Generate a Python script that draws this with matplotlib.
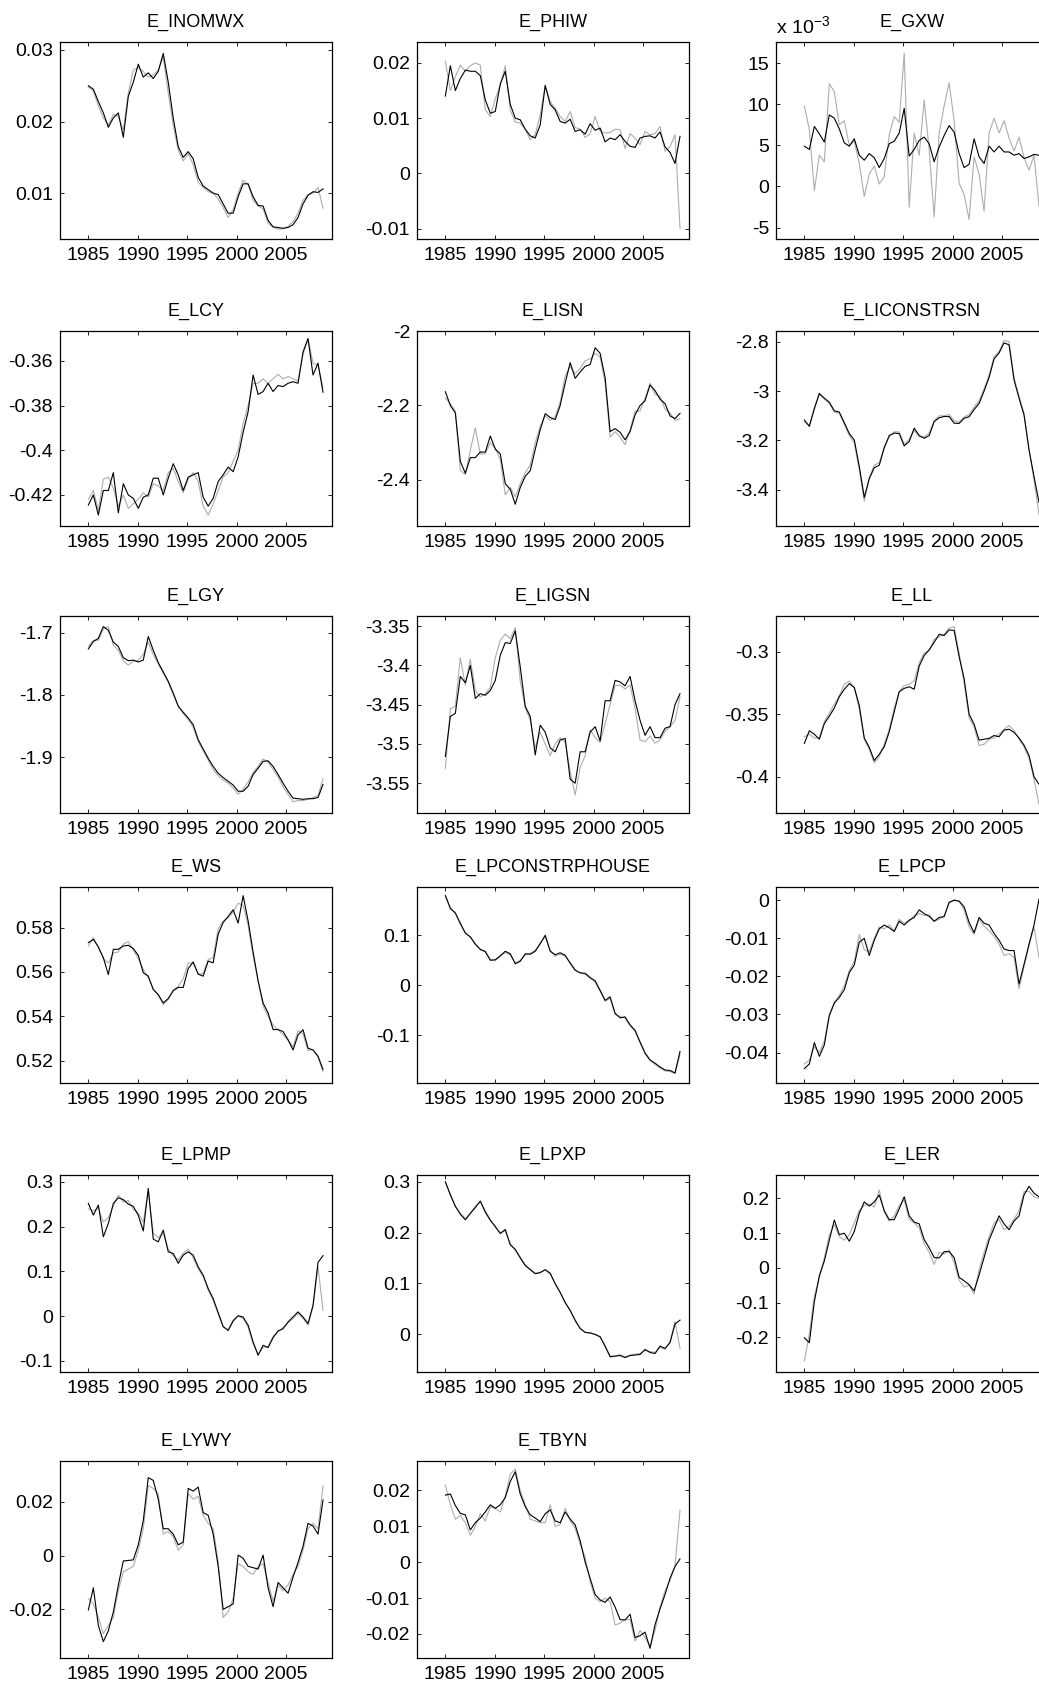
import numpy as np
import matplotlib
matplotlib.use('Agg')
import matplotlib.pyplot as plt
from matplotlib.ticker import FuncFormatter

plt.rcParams['font.family'] = ['Liberation Sans', 'DejaVu Sans']
plt.rcParams['axes.unicode_minus'] = False
plt.rcParams['mathtext.default'] = 'regular'

# ---------------- data (semi-annual readings, 1985 - 2008.75) ----------------
dates = np.linspace(1985, 2008.75, 48)
year_ticks = [1985, 1990, 1995, 2000, 2005]

inomwx_black = [0.0250, 0.0245, 0.0228, 0.0212, 0.0192, 0.0205, 0.0212, 0.0178, 0.0235, 0.0255,
                0.0280, 0.0262, 0.0268, 0.0260, 0.0270, 0.0295, 0.0255, 0.0205, 0.0165, 0.0150,
                0.0158, 0.0148, 0.0122, 0.0110, 0.0105, 0.0100, 0.0098, 0.0085, 0.0072, 0.0072,
                0.0095, 0.0113, 0.0113, 0.0095, 0.0083, 0.0082, 0.0062, 0.0053, 0.0052, 0.0051,
                0.0052, 0.0056, 0.0066, 0.0085, 0.0097, 0.0102, 0.0101, 0.0106]
inomwx_gray = [0.0248, 0.0243, 0.0222, 0.0205, 0.0195, 0.0210, 0.0207, 0.0188, 0.0240, 0.0272,
               0.0275, 0.0270, 0.0262, 0.0265, 0.0272, 0.0290, 0.0240, 0.0195, 0.0160, 0.0145,
               0.0155, 0.0140, 0.0115, 0.0108, 0.0102, 0.0100, 0.0092, 0.0080, 0.0066, 0.0077,
               0.0100, 0.0118, 0.0112, 0.0090, 0.0082, 0.0078, 0.0058, 0.0052, 0.0050, 0.0050,
               0.0054, 0.0060, 0.0072, 0.0090, 0.0098, 0.0100, 0.0108, 0.0079]

phiw_black = [0.0140, 0.0195, 0.0150, 0.0172, 0.0187, 0.0185, 0.0185, 0.0177, 0.0133, 0.0109,
              0.0112, 0.0162, 0.0185, 0.0125, 0.0100, 0.0097, 0.0080, 0.0068, 0.0064, 0.0088,
              0.0159, 0.0125, 0.0115, 0.0094, 0.0091, 0.0098, 0.0076, 0.0079, 0.0071, 0.0090,
              0.0078, 0.0082, 0.0057, 0.0064, 0.0061, 0.0070, 0.0058, 0.0049, 0.0047, 0.0064,
              0.0067, 0.0068, 0.0064, 0.0075, 0.0048, 0.0038, 0.0018, 0.0067]
phiw_gray = [0.0203, 0.0150, 0.0175, 0.0196, 0.0185, 0.0195, 0.0200, 0.0196, 0.0115, 0.0103,
             0.0135, 0.0160, 0.0195, 0.0115, 0.0093, 0.0091, 0.0080, 0.0061, 0.0070, 0.0106,
             0.0160, 0.0130, 0.0118, 0.0103, 0.0094, 0.0112, 0.0083, 0.0080, 0.0065, 0.0072,
             0.0103, 0.0076, 0.0073, 0.0074, 0.0080, 0.0079, 0.0045, 0.0072, 0.0064, 0.0052,
             0.0076, 0.0070, 0.0072, 0.0085, 0.0040, 0.0048, 0.0070, -0.0100]

# E_GXW in units of 10^-3
gxw_black = [4.9, 4.5, 7.3, 6.4, 5.4, 8.7, 8.3, 7.0, 5.3, 4.9,
             5.8, 3.8, 3.2, 4.0, 3.5, 2.3, 3.4, 5.2, 5.5, 6.5,
             9.5, 3.7, 4.5, 5.6, 6.0, 5.2, 3.0, 4.8, 6.2, 7.4,
             6.6, 4.0, 2.3, 2.7, 5.8, 3.6, 2.8, 4.9, 4.2, 4.9,
             4.2, 4.2, 3.8, 4.0, 3.4, 3.6, 3.9, 3.8]
gxw_gray = [9.8, 6.9, -0.5, 3.8, 3.0, 12.5, 11.5, 7.5, 8.0, 5.0,
            5.5, 2.8, -1.2, 1.5, 2.5, 0.3, 1.2, 6.3, 8.5, 7.8,
            16.2, -2.5, 6.5, 3.8, 10.5, 4.5, -3.7, 6.5, 9.8, 12.6,
            8.0, 0.4, -1.0, -4.0, 3.6, 1.5, -3.0, 6.5, 8.3, 6.5,
            8.0, 5.9, 4.3, 6.0, 3.5, 2.0, 3.8, -2.4]

lcy_black = [-0.4245, -0.420, -0.429, -0.418, -0.418, -0.410, -0.428, -0.415, -0.420, -0.4215,
             -0.426, -0.421, -0.420, -0.4125, -0.4125, -0.420, -0.4125, -0.406, -0.411, -0.418,
             -0.412, -0.411, -0.410, -0.421, -0.425, -0.4215, -0.414, -0.411, -0.4075, -0.4096,
             -0.403, -0.392, -0.3827, -0.3663, -0.375, -0.3737, -0.370, -0.3737, -0.371, -0.3715,
             -0.370, -0.3693, -0.370, -0.356, -0.350, -0.3663, -0.361, -0.374]
lcy_gray = [-0.422, -0.418, -0.427, -0.413, -0.412, -0.417, -0.425, -0.420, -0.426, -0.424,
            -0.422, -0.419, -0.421, -0.415, -0.416, -0.418, -0.410, -0.408, -0.414, -0.419,
            -0.413, -0.410, -0.414, -0.425, -0.429, -0.424, -0.418, -0.412, -0.410, -0.405,
            -0.400, -0.388, -0.380, -0.370, -0.370, -0.368, -0.370, -0.368, -0.366, -0.368,
            -0.367, -0.368, -0.369, -0.357, -0.350, -0.361, -0.362, -0.372]

lisn_black = [-2.163, -2.200, -2.220, -2.350, -2.382, -2.340, -2.340, -2.325, -2.325, -2.282,
              -2.317, -2.330, -2.410, -2.425, -2.465, -2.420, -2.390, -2.375, -2.318, -2.265,
              -2.222, -2.232, -2.238, -2.200, -2.140, -2.085, -2.127, -2.110, -2.095, -2.090,
              -2.045, -2.060, -2.125, -2.270, -2.262, -2.272, -2.292, -2.270, -2.225, -2.200,
              -2.187, -2.145, -2.160, -2.183, -2.195, -2.228, -2.235, -2.221]
lisn_gray = [-2.180, -2.195, -2.215, -2.375, -2.385, -2.320, -2.260, -2.330, -2.330, -2.300,
             -2.315, -2.345, -2.440, -2.420, -2.445, -2.410, -2.380, -2.360, -2.300, -2.255,
             -2.228, -2.240, -2.230, -2.190, -2.120, -2.095, -2.115, -2.100, -2.080, -2.075,
             -2.060, -2.070, -2.140, -2.285, -2.270, -2.285, -2.305, -2.265, -2.215, -2.215,
             -2.180, -2.140, -2.170, -2.175, -2.210, -2.220, -2.240, -2.236]

liconstrsn_black = [-3.117, -3.143, -3.072, -3.010, -3.029, -3.045, -3.080, -3.085, -3.128, -3.172,
                    -3.198, -3.305, -3.430, -3.355, -3.310, -3.300, -3.230, -3.180, -3.170, -3.172,
                    -3.222, -3.204, -3.150, -3.180, -3.191, -3.180, -3.124, -3.108, -3.103, -3.103,
                    -3.130, -3.131, -3.110, -3.104, -3.075, -3.050, -3.000, -2.945, -2.870, -2.846,
                    -2.805, -2.813, -2.955, -3.029, -3.097, -3.238, -3.346, -3.450]
liconstrsn_gray = [-3.125, -3.140, -3.065, -3.012, -3.032, -3.050, -3.085, -3.090, -3.135, -3.180,
                   -3.210, -3.320, -3.445, -3.350, -3.300, -3.290, -3.225, -3.185, -3.165, -3.165,
                   -3.215, -3.195, -3.160, -3.185, -3.185, -3.170, -3.120, -3.100, -3.100, -3.095,
                   -3.120, -3.125, -3.105, -3.095, -3.065, -3.040, -2.990, -2.935, -2.860, -2.840,
                   -2.795, -2.800, -2.945, -3.020, -3.090, -3.235, -3.360, -3.500]

lgy_black = [-1.726, -1.714, -1.709, -1.690, -1.696, -1.715, -1.722, -1.740, -1.745, -1.744,
             -1.747, -1.744, -1.706, -1.728, -1.748, -1.763, -1.778, -1.797, -1.818, -1.828,
             -1.837, -1.848, -1.872, -1.887, -1.902, -1.915, -1.926, -1.933, -1.939, -1.945,
             -1.955, -1.955, -1.947, -1.928, -1.918, -1.907, -1.906, -1.915, -1.928, -1.942,
             -1.955, -1.966, -1.967, -1.968, -1.967, -1.967, -1.965, -1.944]
lgy_gray = [-1.722, -1.712, -1.712, -1.694, -1.690, -1.720, -1.728, -1.745, -1.752, -1.746,
            -1.744, -1.735, -1.715, -1.735, -1.750, -1.765, -1.780, -1.800, -1.818, -1.830,
            -1.840, -1.852, -1.875, -1.890, -1.905, -1.920, -1.930, -1.937, -1.942, -1.950,
            -1.960, -1.952, -1.940, -1.925, -1.915, -1.903, -1.908, -1.920, -1.932, -1.948,
            -1.960, -1.972, -1.970, -1.970, -1.968, -1.965, -1.962, -1.935]

ligsn_black = [-3.516, -3.465, -3.461, -3.414, -3.422, -3.400, -3.442, -3.436, -3.438, -3.432,
               -3.419, -3.387, -3.371, -3.372, -3.356, -3.402, -3.452, -3.465, -3.514, -3.476,
               -3.485, -3.505, -3.510, -3.495, -3.493, -3.545, -3.550, -3.510, -3.510, -3.485,
               -3.478, -3.496, -3.445, -3.445, -3.419, -3.421, -3.426, -3.414, -3.445, -3.470,
               -3.489, -3.478, -3.492, -3.492, -3.480, -3.478, -3.450, -3.436]
ligsn_gray = [-3.531, -3.455, -3.452, -3.390, -3.425, -3.392, -3.432, -3.440, -3.436, -3.428,
              -3.390, -3.368, -3.360, -3.366, -3.352, -3.420, -3.454, -3.470, -3.505, -3.485,
              -3.500, -3.515, -3.500, -3.492, -3.498, -3.535, -3.565, -3.530, -3.515, -3.482,
              -3.492, -3.498, -3.474, -3.450, -3.426, -3.425, -3.430, -3.425, -3.455, -3.495,
              -3.497, -3.490, -3.499, -3.495, -3.484, -3.478, -3.470, -3.440]

ll_black = [-0.3733, -0.3632, -0.3660, -0.3700, -0.3575, -0.3515, -0.3450, -0.3360, -0.3300, -0.3255,
            -0.3285, -0.3430, -0.3690, -0.3765, -0.3870, -0.3820, -0.3760, -0.3640, -0.3480, -0.3320,
            -0.3293, -0.3280, -0.3300, -0.3115, -0.3030, -0.2985, -0.2925, -0.2860, -0.2870, -0.2825,
            -0.2830, -0.3040, -0.3215, -0.3500, -0.3580, -0.3707, -0.3700, -0.3693, -0.3670, -0.3680,
            -0.3627, -0.3620, -0.3645, -0.3690, -0.3747, -0.3830, -0.4000, -0.4060]
ll_gray = [-0.3680, -0.3660, -0.3690, -0.3690, -0.3560, -0.3490, -0.3420, -0.3350, -0.3260, -0.3235,
           -0.3290, -0.3460, -0.3700, -0.3780, -0.3890, -0.3840, -0.3740, -0.3620, -0.3450, -0.3320,
           -0.3270, -0.3260, -0.3230, -0.3090, -0.3010, -0.2990, -0.2900, -0.2880, -0.2860, -0.2810,
           -0.2800, -0.3010, -0.3250, -0.3530, -0.3600, -0.3750, -0.3740, -0.3700, -0.3690, -0.3660,
           -0.3620, -0.3590, -0.3630, -0.3700, -0.3760, -0.3850, -0.4020, -0.4220]

ws_black = [0.5732, 0.5747, 0.5713, 0.5664, 0.5588, 0.5702, 0.5702, 0.5717, 0.5720, 0.5705,
            0.5675, 0.5596, 0.5581, 0.5520, 0.5498, 0.5460, 0.5480, 0.5515, 0.5530, 0.5530,
            0.5615, 0.5645, 0.5590, 0.5581, 0.5649, 0.5641, 0.5770, 0.5823, 0.5850, 0.5880,
            0.5820, 0.5944, 0.5830, 0.5690, 0.5560, 0.5460, 0.5415, 0.5340, 0.5340, 0.5331,
            0.5294, 0.5248, 0.5316, 0.5339, 0.5256, 0.5248, 0.5220, 0.5160]
ws_gray = [0.5717, 0.5755, 0.5710, 0.5660, 0.5640, 0.5685, 0.5690, 0.5725, 0.5737, 0.5700,
           0.5660, 0.5610, 0.5575, 0.5525, 0.5495, 0.5453, 0.5475, 0.5520, 0.5535, 0.5570,
           0.5640, 0.5640, 0.5590, 0.5593, 0.5656, 0.5664, 0.5795, 0.5830, 0.5845, 0.5870,
           0.5910, 0.5900, 0.5810, 0.5670, 0.5560, 0.5445, 0.5400, 0.5360, 0.5340, 0.5316,
           0.5292, 0.5262, 0.5335, 0.5320, 0.5245, 0.5250, 0.5215, 0.5150]

lpconstrphouse_black = [0.179, 0.154, 0.144, 0.124, 0.104, 0.097, 0.082, 0.072, 0.067, 0.050,
                        0.051, 0.0585, 0.068, 0.063, 0.043, 0.048, 0.063, 0.062, 0.068, 0.083,
                        0.100, 0.068, 0.061, 0.065, 0.060, 0.044, 0.030, 0.025, 0.024, 0.0155,
                        0.009, -0.010, -0.030, -0.023, -0.056, -0.065, -0.063, -0.079, -0.090, -0.113,
                        -0.135, -0.149, -0.1555, -0.163, -0.169, -0.170, -0.175, -0.132]
lpconstrphouse_gray = [0.180, 0.152, 0.146, 0.121, 0.106, 0.095, 0.084, 0.070, 0.069, 0.052,
                       0.049, 0.060, 0.065, 0.061, 0.045, 0.050, 0.060, 0.064, 0.070, 0.085,
                       0.097, 0.070, 0.058, 0.062, 0.058, 0.046, 0.032, 0.024, 0.022, 0.014,
                       0.006, -0.012, -0.032, -0.026, -0.058, -0.062, -0.066, -0.081, -0.092, -0.115,
                       -0.137, -0.150, -0.158, -0.165, -0.171, -0.172, -0.176, -0.138]

lpcp_black = [-0.0442, -0.0430, -0.0374, -0.0410, -0.0380, -0.0303, -0.0270, -0.0255, -0.0235, -0.0190,
              -0.0170, -0.0110, -0.0100, -0.0145, -0.0105, -0.0075, -0.0065, -0.0072, -0.0082, -0.0055,
              -0.0065, -0.0052, -0.0045, -0.0025, -0.0035, -0.0042, -0.0055, -0.0045, -0.0043, -0.0005,
              0.0000, -0.0002, -0.0017, -0.0058, -0.0085, -0.0045, -0.0060, -0.0065, -0.0087, -0.0105,
              -0.0128, -0.0132, -0.0132, -0.0220, -0.0168, -0.0115, -0.0065, 0.0003]
lpcp_gray = [-0.0430, -0.0420, -0.0385, -0.0400, -0.0370, -0.0300, -0.0268, -0.0250, -0.0225, -0.0185,
             -0.0160, -0.0090, -0.0130, -0.0135, -0.0100, -0.0070, -0.0075, -0.0065, -0.0080, -0.0050,
             -0.0060, -0.0055, -0.0040, -0.0035, -0.0040, -0.0038, -0.0055, -0.0050, -0.0040, -0.0008,
             0.0002, -0.0003, -0.0025, -0.0070, -0.0090, -0.0050, -0.0068, -0.0080, -0.0095, -0.0115,
             -0.0145, -0.0140, -0.0150, -0.0232, -0.0175, -0.0120, -0.0070, -0.0150]

lpmp_black = [0.2516, 0.2255, 0.2479, 0.1771, 0.2069, 0.2516, 0.2642, 0.2600, 0.2500, 0.2450,
              0.2250, 0.1900, 0.2850, 0.1720, 0.1659, 0.1920, 0.1436, 0.1398, 0.1180, 0.1361,
              0.1436, 0.1361, 0.1100, 0.0914, 0.0616, 0.0393, 0.0080, -0.0230, -0.0320, -0.0110,
              0.0010, -0.0020, -0.0200, -0.0575, -0.0873, -0.0650, -0.0700, -0.0480, -0.0330, -0.0280,
              -0.0130, -0.0017, 0.0095, -0.0020, -0.0166, 0.0244, 0.1200, 0.1350]
lpmp_gray = [0.2400, 0.2350, 0.2420, 0.2100, 0.2200, 0.2450, 0.2700, 0.2550, 0.2580, 0.2380,
             0.2300, 0.2100, 0.2800, 0.1850, 0.1750, 0.1850, 0.1500, 0.1350, 0.1250, 0.1400,
             0.1500, 0.1300, 0.1050, 0.0880, 0.0580, 0.0350, 0.0050, -0.0250, -0.0300, -0.0080,
             0.0000, -0.0050, -0.0250, -0.0620, -0.0850, -0.0700, -0.0680, -0.0450, -0.0350, -0.0250,
             -0.0150, -0.0050, 0.0060, -0.0050, -0.0200, 0.0200, 0.1100, 0.0130]

lpxp_black = [0.300, 0.274, 0.252, 0.236, 0.225, 0.238, 0.249, 0.262, 0.240, 0.224,
              0.212, 0.198, 0.206, 0.176, 0.167, 0.150, 0.135, 0.127, 0.119, 0.121,
              0.127, 0.120, 0.099, 0.082, 0.062, 0.047, 0.027, 0.011, 0.0035, 0.0025,
              -0.0005, -0.0050, -0.0240, -0.0440, -0.0430, -0.0420, -0.0460, -0.0420, -0.0410, -0.0400,
              -0.0300, -0.0360, -0.0380, -0.0235, -0.0280, -0.0165, 0.0200, 0.0277]
lpxp_gray = [0.298, 0.276, 0.250, 0.238, 0.228, 0.236, 0.252, 0.260, 0.243, 0.226,
             0.210, 0.200, 0.203, 0.178, 0.165, 0.152, 0.137, 0.128, 0.120, 0.122,
             0.126, 0.118, 0.100, 0.083, 0.063, 0.046, 0.028, 0.012, 0.004, 0.002,
             0.000, -0.006, -0.022, -0.045, -0.044, -0.040, -0.045, -0.041, -0.039, -0.038,
             -0.032, -0.034, -0.036, -0.026, -0.030, -0.015, 0.025, -0.028]

ler_black = [-0.201, -0.215, -0.097, -0.022, 0.020, 0.080, 0.138, 0.096, 0.100, 0.077,
             0.105, 0.157, 0.190, 0.178, 0.190, 0.210, 0.165, 0.139, 0.139, 0.170,
             0.205, 0.150, 0.132, 0.127, 0.082, 0.058, 0.030, 0.029, 0.047, 0.047,
             0.030, -0.027, -0.037, -0.048, -0.066, -0.020, 0.030, 0.080, 0.115, 0.150,
             0.127, 0.110, 0.135, 0.150, 0.210, 0.235, 0.215, 0.205]
ler_gray = [-0.268, -0.190, -0.080, -0.030, 0.030, 0.095, 0.125, 0.090, 0.080, 0.095,
            0.130, 0.165, 0.180, 0.185, 0.175, 0.225, 0.160, 0.135, 0.150, 0.180,
            0.195, 0.140, 0.130, 0.115, 0.070, 0.045, 0.010, 0.045, 0.040, 0.052,
            0.015, -0.035, -0.055, -0.050, -0.075, -0.005, 0.045, 0.090, 0.130, 0.140,
            0.110, 0.120, 0.140, 0.165, 0.220, 0.220, 0.205, 0.200]

lywy_black = [-0.0202, -0.0120, -0.0260, -0.0320, -0.0280, -0.0210, -0.0110, -0.0020, -0.0018, -0.0016,
              0.0040, 0.0130, 0.0290, 0.0280, 0.0210, 0.0100, 0.0100, 0.0080, 0.0040, 0.0050,
              0.0250, 0.0240, 0.0255, 0.0160, 0.0150, 0.0080, -0.0040, -0.0200, -0.0190, -0.0180,
              0.0002, -0.0010, -0.0040, -0.0045, -0.0050, 0.0002, -0.0120, -0.0190, -0.0100, -0.0120,
              -0.0140, -0.0080, -0.0025, 0.0035, 0.0120, 0.0110, 0.0080, 0.0207]
lywy_gray = [-0.0160, -0.0180, -0.0230, -0.0290, -0.0260, -0.0230, -0.0130, -0.0060, -0.0050, -0.0040,
             0.0020, 0.0100, 0.0260, 0.0250, 0.0230, 0.0080, 0.0090, 0.0070, 0.0020, 0.0040,
             0.0230, 0.0210, 0.0220, 0.0150, 0.0120, 0.0100, -0.0020, -0.0230, -0.0210, -0.0160,
             -0.0030, -0.0040, -0.0060, -0.0070, -0.0040, -0.0030, -0.0100, -0.0170, -0.0110, -0.0130,
             -0.0110, -0.0070, -0.0040, 0.0020, 0.0100, 0.0120, 0.0100, 0.0260]

tbyn_black = [0.0187, 0.0190, 0.0158, 0.0136, 0.0132, 0.0090, 0.0110, 0.0123, 0.0140, 0.0160,
              0.0150, 0.0160, 0.0180, 0.0225, 0.0252, 0.0190, 0.0155, 0.0132, 0.0123, 0.0113,
              0.0135, 0.0146, 0.0115, 0.0110, 0.0140, 0.0120, 0.0104, 0.0060, 0.0000, -0.0045,
              -0.0090, -0.0105, -0.0112, -0.0097, -0.0125, -0.0160, -0.0161, -0.0145, -0.0210, -0.0205,
              -0.0195, -0.0240, -0.0174, -0.0130, -0.0090, -0.0045, -0.0012, 0.0009]
tbyn_gray = [0.0215, 0.0160, 0.0120, 0.0130, 0.0110, 0.0075, 0.0100, 0.0135, 0.0115, 0.0155,
             0.0150, 0.0140, 0.0185, 0.0245, 0.0260, 0.0200, 0.0160, 0.0120, 0.0115, 0.0110,
             0.0110, 0.0160, 0.0100, 0.0105, 0.0150, 0.0115, 0.0095, 0.0050, 0.0015, -0.0055,
             -0.0100, -0.0110, -0.0100, -0.0110, -0.0175, -0.0170, -0.0160, -0.0160, -0.0220, -0.0190,
             -0.0210, -0.0235, -0.0190, -0.0125, -0.0080, -0.0050, -0.0010, 0.0145]

titles = ['E_INOMWX', 'E_PHIW', 'E_GXW', 'E_LCY', 'E_LISN', 'E_LICONSTRSN',
          'E_LGY', 'E_LIGSN', 'E_LL', 'E_WS', 'E_LPCONSTRPHOUSE', 'E_LPCP',
          'E_LPMP', 'E_LPXP', 'E_LER', 'E_LYWY', 'E_TBYN']
black_series = [inomwx_black, phiw_black, gxw_black, lcy_black, lisn_black, liconstrsn_black,
                lgy_black, ligsn_black, ll_black, ws_black, lpconstrphouse_black, lpcp_black,
                lpmp_black, lpxp_black, ler_black, lywy_black, tbyn_black]
gray_series = [inomwx_gray, phiw_gray, gxw_gray, lcy_gray, lisn_gray, liconstrsn_gray,
               lgy_gray, ligsn_gray, ll_gray, ws_gray, lpconstrphouse_gray, lpcp_gray,
               lpmp_gray, lpxp_gray, ler_gray, lywy_gray, tbyn_gray]
y_ticks = [[0.01, 0.02, 0.03], [-0.01, 0, 0.01, 0.02], [-5, 0, 5, 10, 15],
           [-0.42, -0.40, -0.38, -0.36], [-2.4, -2.2, -2.0], [-3.4, -3.2, -3.0, -2.8],
           [-1.9, -1.8, -1.7], [-3.55, -3.5, -3.45, -3.4, -3.35], [-0.4, -0.35, -0.3],
           [0.52, 0.54, 0.56, 0.58], [-0.1, 0, 0.1], [-0.04, -0.03, -0.02, -0.01, 0],
           [-0.1, 0, 0.1, 0.2, 0.3], [0, 0.1, 0.2, 0.3], [-0.2, -0.1, 0, 0.1, 0.2],
           [-0.02, 0, 0.02], [-0.02, -0.01, 0, 0.01, 0.02]]
y_limits = [(0.0036, 0.0311), (-0.0119, 0.0238), (-6.38, 17.56),
            (-0.4339, -0.3466), (-2.5235, -2.0), (-3.546, -2.757),
            (-1.990, -1.673), (-3.588, -3.337), (-0.429, -0.2714),
            (0.5099, 0.5983), (-0.195, 0.1963), (-0.048, 0.0035),
            (-0.1246, 0.315), (-0.0744, 0.3132), (-0.2993, 0.2675),
            (-0.0381, 0.0352), (-0.0267, 0.0282)]

# ---------------- layout (pixels of the 1039 x 1686 canvas) ----------------
W, H = 1039, 1686
row_top = [42, 331, 616, 887, 1175, 1461]
row_bot = [239, 526, 813, 1083, 1372, 1658]
col_left = [60, 417, 776]
ax_w = 272

fig = plt.figure(figsize=(W / 100, H / 100), dpi=100)
fig.patch.set_facecolor('white')

fmt = FuncFormatter(lambda v, p: '%g' % round(v, 6))

for i, title in enumerate(titles):
    r, c = divmod(i, 3)
    ax = fig.add_axes([col_left[c] / W, 1 - row_bot[r] / H, ax_w / W,
                       (row_bot[r] - row_top[r]) / H])
    ax.plot(dates, gray_series[i], color='0.68', lw=0.8)
    ax.plot(dates, black_series[i], color='black', lw=0.8)
    ax.set_xlim(1982.13, 2009.66)
    ax.set_ylim(*y_limits[i])
    ax.set_xticks(year_ticks)
    ax.set_yticks(y_ticks[i])
    ax.yaxis.set_major_formatter(fmt)
    ax.tick_params(direction='in', length=3, width=0.6, top=True, right=True,
                   labelsize=14, colors='black')
    ax.tick_params(axis='x', pad=6)
    ax.tick_params(axis='y', pad=5)
    for s in ax.spines.values():
        s.set_linewidth(0.9)
        s.set_color('black')
    ax.set_title(title, fontsize=13, pad=11)
    if title == 'E_GXW':
        ax.text(0.0, 1.045, r'x 10$^{-3}$', transform=ax.transAxes,
                fontsize=14, ha='left', va='baseline')

fig.savefig('out.png', dpi=100)
